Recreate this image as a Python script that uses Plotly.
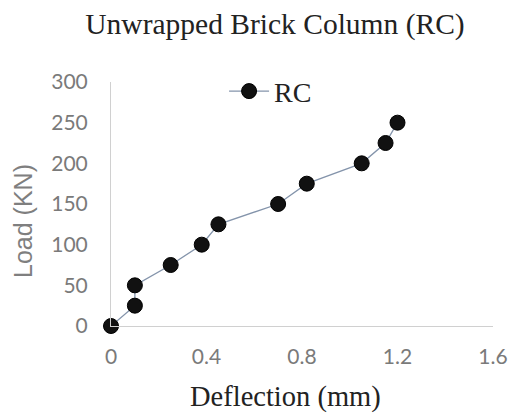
import plotly.graph_objects as go

deflection = [0, 0.1, 0.1, 0.25, 0.38, 0.45, 0.70, 0.82, 1.05, 1.15, 1.2]
load = [0, 25, 50, 75, 100, 125, 150, 175, 200, 225, 250]
x_ticks = [0, 0.4, 0.8, 1.2, 1.6]
x_tick_labels = ["0", "0.4", "0.8", "1.2", "1.6"]
y_ticks = [0, 50, 100, 150, 200, 250, 300]

serif = "Liberation Serif, Times New Roman, serif"
sans = "Lato, Liberation Sans, sans-serif"
sans_title = "Liberation Sans, Arial, sans-serif"

fig = go.Figure()
fig.add_trace(go.Scatter(
    x=deflection, y=load, mode="lines+markers", name="RC",
    line=dict(color="#8494ab", width=1.3),
    marker=dict(color="#111111", size=15, line=dict(color="#000000", width=1)),
    cliponaxis=False,
))

fig.update_layout(
    width=520, height=416,
    margin=dict(l=111, r=17, t=82, b=90),
    paper_bgcolor="white", plot_bgcolor="white",
    title=dict(text="Unwrapped Brick Column (RC)", x=275 / 520, xanchor="center",
               y=1 - 24 / 416, yanchor="middle",
               font=dict(family=serif, size=29.5, color="#222222")),
    showlegend=True,
    legend=dict(x=0.296, xanchor="left", y=1.064, yanchor="top",
                font=dict(family=serif, size=28, color="#222222"),
                bgcolor="rgba(0,0,0,0)", itemwidth=40),
    xaxis=dict(range=[0, 1.6], tickvals=x_ticks, ticktext=x_tick_labels,
               showgrid=False, zeroline=False, showline=True,
               linecolor="#d0d0d0", linewidth=1, ticks="",
               ticklabelstandoff=12,
               tickfont=dict(family=sans, size=21, color="#7a7a7a")),
    yaxis=dict(range=[0, 300], tickvals=y_ticks,
               showgrid=False, zeroline=False, showline=True,
               linecolor="#d0d0d0", linewidth=1, ticks="",
               ticklabelstandoff=18,
               tickfont=dict(family=sans, size=21, color="#7a7a7a")),
    annotations=[
        dict(text="Deflection (mm)", xref="paper", yref="paper",
             x=(190 - 111) / 392, xanchor="left", y=-0.289, yanchor="middle",
             showarrow=False,
             font=dict(family=serif, size=28.5, color="#222222")),
        dict(text="Load (KN)", xref="paper", yref="paper", textangle=-90,
             x=-0.232, xanchor="center", y=0.432, yanchor="middle",
             showarrow=False,
             font=dict(family=sans_title, size=25, color="#7f7f7f")),
    ],
)

fig.write_html("out.html")
